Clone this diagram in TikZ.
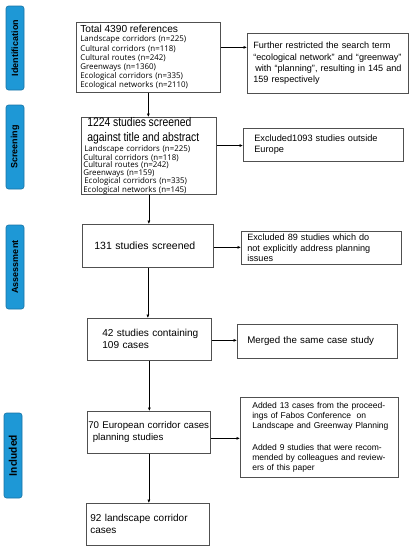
\documentclass[tikz,border=0pt]{standalone}
\usepackage{graphicx}
\usepackage{fontspec}
\setmainfont{Liberation Sans}
\newfontfamily\carl{Carlito}
\newfontfamily\lst{Open Sans}
\usetikzlibrary{arrows.meta}
\definecolor{lblue}{RGB}{30,152,214}
\definecolor{lbord}{RGB}{25,115,165}
\definecolor{bgray}{RGB}{80,80,80}
\newcommand{\ml}[1]{\mbox{#1}}
\newcommand{\tallline}[1]{\scalebox{1}[1.2]{\normalfont\fontsize{10.4}{10}\selectfont #1}}
\lineskiplimit=-10pt
\begin{document}
\begin{tikzpicture}[x=1pt,y=-1pt,
  box/.style={draw=bgray, line width=0.7pt, align=left, inner ysep=0pt, anchor=north west},
  stage/.style={draw=lbord, fill=lblue, rounded corners=2.5pt, line width=0.6pt, inner sep=0pt, rotate=90},
  stagetext/.style={font=\fontsize{9}{10}\selectfont\bfseries},
  arr/.style={-{Latex[length=3.5pt,width=3pt]}, line width=0.6pt, black}]
\useasboundingbox (0,0) rectangle (414,550);

% stage labels
\node[stage, stagetext, minimum width=84, minimum height=18] (s1) at (15,48) {Identification};
\node[stage, stagetext, minimum width=84, minimum height=18] (s2) at (15,147) {Screening};
\node[stage, stagetext, minimum width=84, minimum height=18] (s3) at (15,267) {Assessment};
\node[stage, font=\carl\fontsize{11.5}{12}\selectfont\bfseries, minimum width=85, minimum height=18] (s4) at (13,455.5) {Included};

% main column
\node[box, minimum height=70, text width=136, inner xsep=4, font=\lst\fontsize{7.9}{9.2}\selectfont] (b1) at (76,22)
 {\ml{\normalfont\fontsize{10.2}{11}\selectfont Total 4390 references}\\[0.5pt]
  \ml{Landscape corridors (n=225)}\\
  \ml{Cultural corridors (n=118)}\\
  \ml{Cultural routes (n=242)}\\
  \ml{Greenways (n=1360)}\\
  \ml{Ecological corridors (n=335)}\\
  \ml{Ecological networks (n=2110)}};

\node[box, minimum height=73, text width=131, inner xsep=2, font=\lst\fontsize{7.9}{7.5}\selectfont] (b2) at (81,117)
 {\ml{\hspace{4pt}\tallline{1224 studies screened}}\\[4.5pt]
  \ml{\hspace{4pt}\tallline{against title and abstract}}\\[0.5pt]
  \ml{\hspace{1pt}Landscape corridors (n=225)}\\
  \ml{Cultural corridors (n=118)}\\
  \ml{Cultural routes (n=242)}\\
  \ml{Greenways (n=159)}\\
  \ml{\hspace{1pt}Ecological corridors (n=335)}\\
  \ml{Ecological networks (n=145)}};

\node[box, minimum height=43, text width=107, inner xsep=12, font=\fontsize{10.5}{12}\selectfont] (b3) at (82,224)
 {\ml{131 studies screened}};

\node[box, minimum height=42, text width=94, inner xsep=15, font=\fontsize{10.1}{12}\selectfont] (b4) at (87,318)
 {\ml{42 studies containing}\\\ml{109 cases}};

\node[box, minimum height=42, text width=121, inner xsep=1, font=\fontsize{9.7}{12}\selectfont] (b5) at (87,411)
 {\ml{70 European corridor cases}\\\ml{\hspace{4.5pt}planning studies}};

\node[box, minimum height=42, text width=115, inner xsep=4, font=\fontsize{10}{12}\selectfont] (b6) at (86,503)
 {\ml{92 landscape corridor}\\\ml{cases}};

% right column
\node[box, minimum height=60, text width=149, inner xsep=6, font=\fontsize{9.1}{11.3}\selectfont] (r1) at (247,33)
 {\ml{Further restricted the search term}\\
  \ml{“ecological network” and “greenway”}\\
  \ml{\hspace{2pt}with “planning”, resulting in 145 and}\\
  \ml{159 respectively}};

\node[box, minimum height=33, text width=138, inner xsep=11, font=\fontsize{9.2}{11}\selectfont] (r2) at (243,128)
 {\ml{Excluded1093 studies outside}\\\ml{Europe}};

\node[box, minimum height=33, text width=148, inner xsep=6, font=\fontsize{9.1}{10.8}\selectfont] (r3) at (241,231)
 {\ml{Excluded 89 studies which do}\\\ml{not explicitly address planning}\\\ml{issues}};

\node[box, minimum height=34, text width=140, inner xsep=10, font=\fontsize{9.7}{11}\selectfont] (r4) at (237,324)
 {\ml{Merged the same case study}};

\node[box, minimum height=80, text width=134, inner xsep=12, font=\fontsize{8.5}{10.3}\selectfont] (r5) at (240,397)
 {\ml{Added 13 cases from the proceed-}\\
  \ml{ings of Fabos Conference \ on}\\
  \ml{Landscape and Greenway Planning}\\[11pt]
  \ml{Added 9 studies that were recom-}\\
  \ml{mended by colleagues and review-}\\
  \ml{ers of this paper}};

% vertical arrows
\draw[arr] (b1.south) -- (b1.south |- b2.north);
\draw[arr] (b2.south) -- (b2.south |- b3.north);
\draw[arr] (b3.south) -- (b3.south |- b4.north);
\draw[arr] (b4.south) -- (b4.south |- b5.north);
\draw[arr] (b5.south) -- (b5.south |- b6.north);

% horizontal arrows
\draw[arr] ([yshift=10pt]b1.east) -- ([yshift=10pt]b1.east -| r1.west);
\draw[arr] ([yshift=10.5pt]b2.east) -- ([yshift=10.5pt]b2.east -| r2.west);
\draw[arr] ([yshift=-1.5pt]b3.east) -- ([yshift=-1.5pt]b3.east -| r3.west);
\draw[arr] ([yshift=-1pt]b4.east) -- ([yshift=-1pt]b4.east -| r4.west);
\draw[arr] ([yshift=-6pt]b5.east) -- ([yshift=-6pt]b5.east -| r5.west);
\end{tikzpicture}
\end{document}
